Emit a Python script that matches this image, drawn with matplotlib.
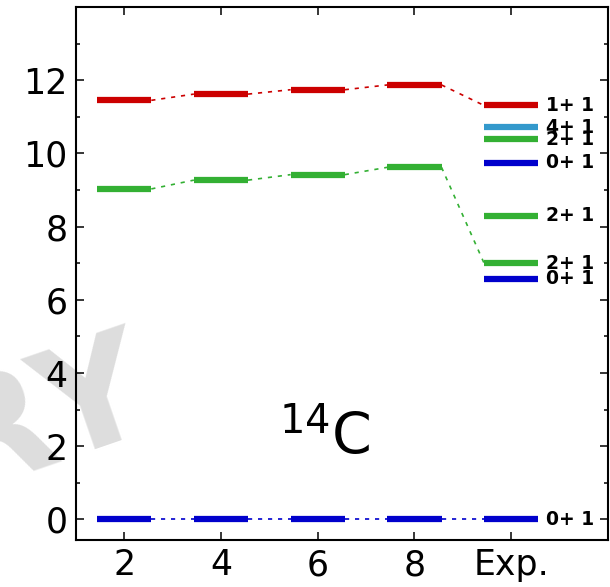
import numpy as np
import matplotlib.pyplot as plt

# Theory levels (MeV) for each model space size
nmax = [2, 4, 6, 8]
e_red = [11.45, 11.62, 11.74, 11.87]
e_green = [9.03, 9.27, 9.42, 9.62]
e_blue = [0.0, 0.0, 0.0, 0.0]

# Experimental levels
exp_x = 10
exp_e = [11.31, 10.71, 10.39, 9.74, 8.30, 7.00, 6.58, 0.0]
exp_labels = ['1+ 1', '4+ 1', '2+ 1', '0+ 1', '2+ 1', '2+ 1', '0+ 1', '0+ 1']
exp_colors = ['#cc0000', '#3399cc', '#33b033', '#0000cc', '#33b033', '#33b033', '#0000cc', '#0000cc']

red = '#cc0000'
green = '#33b033'
blue = '#0000cc'
hw = 0.56  # half width of a level bar

fig = plt.figure(figsize=(6.1, 5.87), dpi=100)
ax = fig.add_axes([0.1243, 0.0801, 0.8723, 0.908])
ax.patch.set_alpha(0)

# watermark
fig.text(0.262, 0.28, 'PRELIMINARY', fontsize=108, fontweight='bold', color='#dddddd',
         rotation=19, ha='right', va='baseline', rotation_mode='anchor', zorder=-1)


def draw_series(xs, es, color, end_e):
    xs_all = list(xs) + [exp_x]
    es_all = list(es) + [end_e]
    for x, e in zip(xs, es):
        ax.plot([x - hw, x + hw], [e, e], color=color, lw=4.5, solid_capstyle='butt')
    for i in range(len(xs_all) - 1):
        ax.plot([xs_all[i] + hw, xs_all[i + 1] - hw], [es_all[i], es_all[i + 1]],
                color=color, lw=1.2, linestyle=(0, (2.5, 3.5)))


draw_series(nmax, e_red, red, 11.31)
draw_series(nmax, e_green, green, 7.00)
draw_series(nmax, e_blue, blue, 0.0)

for e, lab, c in zip(exp_e, exp_labels, exp_colors):
    ax.plot([exp_x - hw, exp_x + hw], [e, e], color=c, lw=4.5, solid_capstyle='butt')
    ax.text(exp_x + 0.72, e, lab, fontsize=13.5, fontweight='bold', va='center', ha='left',
            family='DejaVu Sans')

ax.text(5.19, 1.75, r'$^{14}$C', fontsize=41, ha='left', va='baseline')

ax.set_xlim(1, 12)
ax.set_ylim(-0.56, 14)
ax.set_xticks([2, 4, 6, 8, 10])
ax.set_xticklabels(['2', '4', '6', '8', 'Exp.'])
ax.set_yticks([0, 2, 4, 6, 8, 10, 12])
ax.set_yticks(np.arange(0, 14, 1), minor=True)

ax.tick_params(axis='both', which='major', direction='in', length=5.5, width=1.1,
               labelsize=25, top=True, right=True, pad=6)
ax.tick_params(axis='y', which='minor', direction='in', length=3, width=1.1, right=True)
for s in ax.spines.values():
    s.set_linewidth(1.5)

fig.savefig('out.png', dpi=100)
